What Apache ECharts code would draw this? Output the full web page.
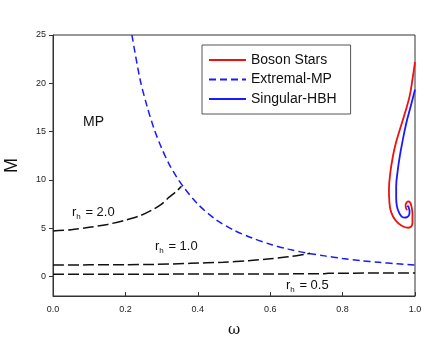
<!DOCTYPE html>
<html>
<head>
<meta charset="utf-8">
<script src="https://cdn.jsdelivr.net/npm/echarts@6/dist/echarts.min.js"></script>
<style>
html,body{margin:0;padding:0;background:#fff;}
#main{width:436px;height:346px;}
</style>
</head>
<body>
<div id="main"></div>
<script>
// 各曲线数据 [omega, M]
var bosonStars = [
  [1.0,22.2],[0.993,20.4],[0.985,18.65],[0.972,16.9],[0.958,15.2],[0.947,13.8],[0.939,12.46],
  [0.932,10.8],[0.928,9.0],[0.929,7.9],[0.932,6.95],[0.939,6.25],[0.948,5.75],[0.962,5.3],
  [0.981,5.06],[0.99,5.2],[0.993,5.58],[0.993,6.5],[0.99,7.3],[0.986,7.7],[0.981,7.78],
  [0.976,7.62],[0.974,7.35],[0.976,7.0],[0.979,6.9]
];
var extremalMP = [
  [0.218,25],[0.24,20.5],[0.26,17.6],[0.28,15.2],[0.30,13.3],[0.32,11.7],[0.34,10.4],
  [0.36,9.3],[0.40,7.5],[0.45,5.9],[0.50,4.8],[0.55,4.0],[0.60,3.35],[0.65,2.85],
  [0.70,2.45],[0.75,2.15],[0.80,1.88],[0.85,1.66],[0.90,1.48],[0.95,1.33],[1.0,1.2]
];
var singularHBH = [
  [1.0,19.35],[0.988,17.6],[0.976,15.9],[0.966,14.1],[0.958,12.46],[0.952,10.9],[0.948,9.36],
  [0.948,8.2],[0.95,7.3],[0.955,6.7],[0.962,6.26],[0.97,6.1],[0.978,6.16],[0.984,6.4],
  [0.985,6.78],[0.983,7.1],[0.981,7.3],[0.979,7.2]
];
var rh20 = [
  [0.0,4.72],[0.05,4.85],[0.10,5.1],[0.15,5.4],[0.20,5.85],[0.24,6.3],[0.276,6.95],
  [0.30,7.5],[0.32,8.2],[0.34,8.8],[0.355,9.35]
];
var rh10 = [
  [0.0,1.2],[0.1,1.22],[0.2,1.24],[0.28,1.27],[0.38,1.38],[0.47,1.5],[0.54,1.65],
  [0.6,1.85],[0.65,2.05],[0.7,2.35],[0.71,2.42]
];
var rh05 = [
  [0.0,0.25],[0.25,0.26],[0.5,0.27],[0.75,0.3],[0.76,0.36],[1.0,0.38]
];
var xTicks = [0,0.2,0.4,0.6,0.8,1.0];
var yTicks = [0,5,10,15,20,25];

var font = 'Liberation Sans, Arial, sans-serif';
var myChart = echarts.init(document.getElementById('main'));

function rhText(x, y, v) {
  return {
    type: 'text', left: x, top: y,
    style: {
      text: '{r|r}{s|h}{r| = ' + v + '}',
      rich: {
        r: {fontSize: 13, fontFamily: font, fill: '#111'},
        s: {fontSize: 8, fontFamily: font, fill: '#111', padding: [9, 1, 0, 0]}
      }
    }
  };
}

var option = {
  animation: false,
  grid: {left: 53, right: 21, top: 35, bottom: 50, outerBoundsMode: 'none', containLabel: false,
    show: true, borderColor: '#333', borderWidth: 1},
  legend: {
    data: ['Boson Stars', 'Extremal-MP', 'Singular-HBH'],
    orient: 'vertical',
    left: 202, top: 45,
    itemWidth: 37, itemHeight: 13, itemGap: 5.5,
    padding: [8, 14, 8, 6],
    borderColor: '#555', borderWidth: 1,
    itemStyle: {opacity: 0},
    textStyle: {fontSize: 14, fontFamily: font, color: '#111'}
  },
  xAxis: {
    type: 'value', min: 0, max: 1, interval: 0.2,
    name: 'ω', nameLocation: 'middle', nameGap: 27,
    nameTextStyle: {fontSize: 15, fontFamily: 'DejaVu Serif, serif', color: '#111'},
    axisLine: {onZero: false, lineStyle: {color: '#333'}},
    axisTick: {inside: true, length: 4, lineStyle: {color: '#333'}},
    axisLabel: {fontSize: 9, fontFamily: font, color: '#222', margin: 9,
      formatter: function (v) { return v.toFixed(1); }},
    splitLine: {show: false}
  },
  yAxis: {
    type: 'value', min: -2, max: 25,
    name: 'M', nameLocation: 'middle', nameGap: 32, nameRotate: 90,
    nameTextStyle: {fontSize: 18, fontFamily: font, color: '#111'},
    axisLine: {show: true, onZero: false, lineStyle: {color: '#333'}},
    axisTick: {show: true, length: 4, customValues: yTicks, lineStyle: {color: '#333'}},
    axisLabel: {fontSize: 9, fontFamily: font, color: '#222', margin: 7, customValues: yTicks},
    splitLine: {show: false}
  },
  series: [
    {name: 'Boson Stars', type: 'line', data: bosonStars, symbol: 'none', smooth: 0.4,
      lineStyle: {color: '#ee1111', width: 1.8}, itemStyle: {color: '#ee1111'}},
    {name: 'Extremal-MP', type: 'line', data: extremalMP, symbol: 'none', smooth: 0.3,
      lineStyle: {color: '#1a1aff', width: 1.5, type: [7, 4]}, itemStyle: {color: '#1a1aff'}},
    {name: 'Singular-HBH', type: 'line', data: singularHBH, symbol: 'none', smooth: 0.4,
      lineStyle: {color: '#1a1aff', width: 1.8}, itemStyle: {color: '#1a1aff'}},
    {name: 'rh2', type: 'line', data: rh20, symbol: 'none', smooth: 0.3,
      lineStyle: {color: '#111', width: 1.5, type: [11, 4]}},
    {name: 'rh1', type: 'line', data: rh10, symbol: 'none', smooth: 0.3,
      lineStyle: {color: '#111', width: 1.5, type: [11, 4]}},
    {name: 'rh05', type: 'line', data: rh05, symbol: 'none',
      lineStyle: {color: '#111', width: 1.5, type: [11, 4]}}
  ],
  graphic: [
    {type: 'text', left: 83, top: 115,
      style: {text: 'MP', fontSize: 14, fontFamily: font, fill: '#111'}},
    rhText(72, 206, '2.0'),
    rhText(155, 240, '1.0'),
    rhText(286, 279, '0.5')
  ]
};
myChart.setOption(option);
</script>
</body>
</html>
